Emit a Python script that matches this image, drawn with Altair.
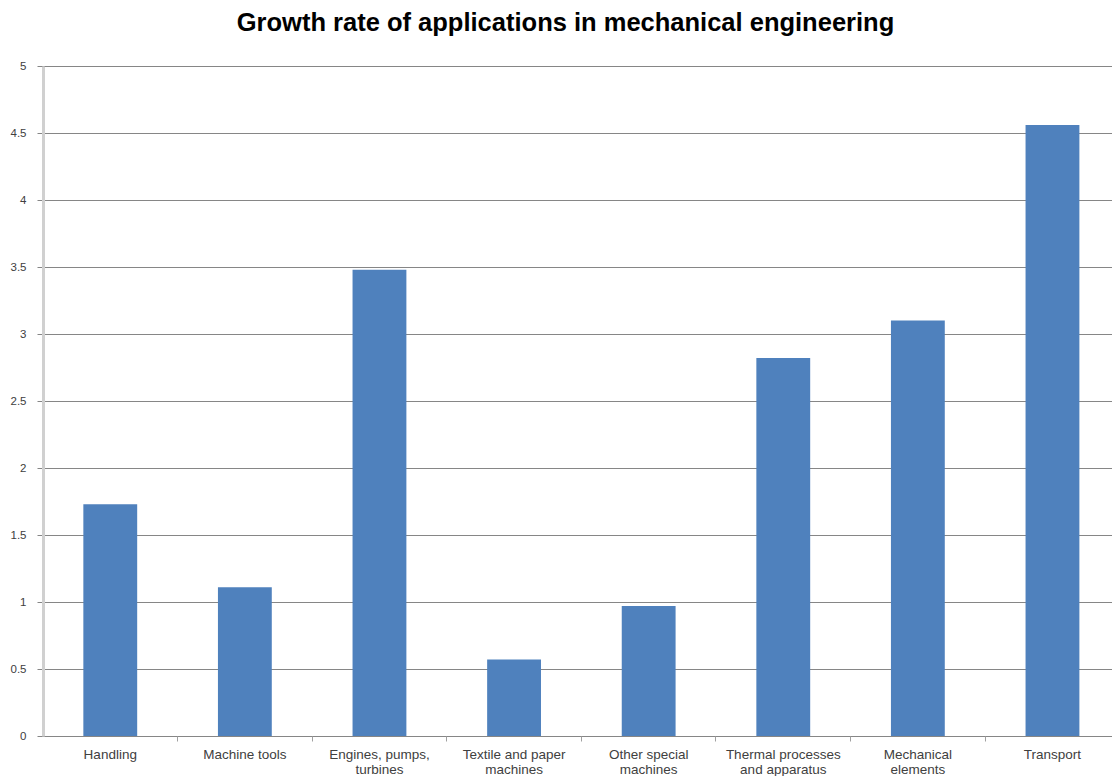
import altair as alt
import pandas as pd

categories = ["Handling", "Machine tools", "Engines, pumps,|turbines",
              "Textile and paper|machines", "Other special|machines",
              "Thermal processes|and apparatus", "Mechanical|elements", "Transport"]
values = [1.73, 1.11, 3.48, 0.57, 0.97, 2.82, 3.10, 4.56]
y_ticks = [0, 0.5, 1, 1.5, 2, 2.5, 3, 3.5, 4, 4.5, 5]
title_text = "Growth rate of applications in mechanical engineering"

df = pd.DataFrame({"category": categories, "value": values})

x_scale = alt.Scale(paddingInner=0.6, paddingOuter=0.271, align=0.553)
y_scale = alt.Scale(domain=[0, 5], nice=False)

bars = alt.Chart(df).mark_bar(color="#4F81BD").encode(
    x=alt.X("category:N", sort=categories, scale=x_scale, title=None,
            axis=alt.Axis(orient="bottom", labelAngle=0, labelExpr="split(datum.value, '|')",
                          labelFont="Liberation Sans", labelFontSize=13.5, labelColor="#404040",
                          labelLineHeight=15, labelPadding=22, ticks=False,
                          domainColor="#868686", domainWidth=1, labelBaseline="alphabetic")),
    y=alt.Y("value:Q", scale=y_scale, title=None,
            axis=alt.Axis(values=y_ticks, format="~g", labelFont="Liberation Sans",
                          labelFontSize=11.5, labelColor="#404040", labelPadding=11,
                          tickSize=6, tickColor="#868686", gridColor="#868686",
                          gridWidth=1, domainColor="#D0D0D0", domainWidth=3)),
)

ticks_layer = alt.Chart(df).mark_bar(opacity=0).encode(
    x=alt.X("category:N", sort=categories, scale=x_scale, title=None,
            axis=alt.Axis(orient="bottom", bandPosition=1.75, labels=False, domain=False,
                          tickSize=5, tickColor="#A0A0A0", grid=False)),
    y=alt.Y("value:Q", scale=y_scale),
)

chart = alt.layer(bars, ticks_layer).resolve_axis(x="independent").properties(
    width=1069, height=670,
    title=alt.TitleParams(title_text, font="Liberation Sans", fontSize=25.5, fontWeight="bold",
                          color="#000000", anchor="middle", dx=-12, offset=24),
    autosize=alt.AutoSizeParams(type="none"),
    padding={"left": 35, "top": 58, "right": 0, "bottom": 40},
).configure_view(stroke=None).configure_axisX(grid=False)

chart.save("out.html", embed_options={"renderer": "svg", "actions": False})
